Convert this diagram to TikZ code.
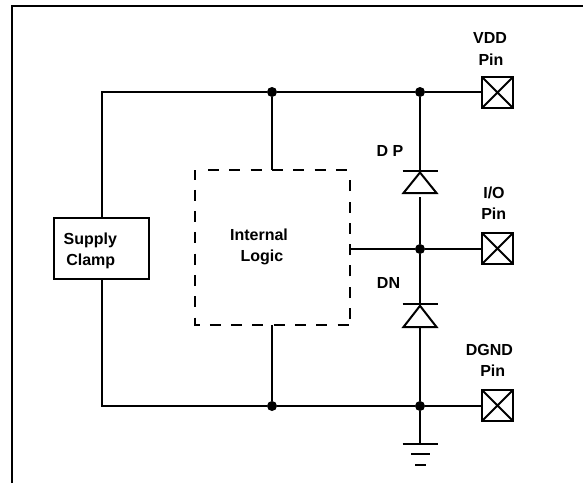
\documentclass[tikz,border=0pt]{standalone}
\usepackage{fontspec}
\setmainfont{Liberation Sans}
\tikzset{
  wire/.style={line width=2pt,line cap=butt},
  frameline/.style={line width=2.4pt,line join=miter},
  dot/.style={circle,fill=black,draw=none,inner sep=0pt,minimum size=10pt},
  lbl/.style={font=\fontsize{16pt}{18pt}\selectfont\bfseries,inner sep=0pt,anchor=center},
  pinbox/.style={rectangle,draw,line width=2pt,inner sep=0pt,minimum size=31pt,
    path picture={\draw[line width=2pt] (path picture bounding box.north west)--(path picture bounding box.south east)
      (path picture bounding box.north east)--(path picture bounding box.south west);}},
  clampbox/.style={rectangle,draw,line width=2pt,inner sep=0pt,minimum width=95pt,minimum height=61pt},
  logicedge/.style={line width=2pt,dash pattern=on 11pt off 10.3pt},
}
\begin{document}
\begin{tikzpicture}[x=1pt,y=-1pt]
\useasboundingbox (0,0) rectangle (583,483);
\draw[frameline] (12,483) -- (12,6) -- (583,6);

% junctions and pins
\node[dot] (jt) at (272,92) {};
\node[dot] (jv) at (420,92) {};
\node[dot] (ji) at (420,249) {};
\node[dot] (jb) at (272,406) {};
\node[dot] (jg) at (420,406) {};
\node[pinbox] (pv) at (497.5,92.5) {};
\node[pinbox] (pi) at (497.5,248.5) {};
\node[pinbox] (pg) at (497.5,405.5) {};
\node[clampbox] (clamp) at (101.5,248.5) {};
\coordinate (tl) at (102,92);
\coordinate (bl) at (102,406);

% internal logic box
\coordinate (lnw) at (195,170);
\coordinate (lne) at (350,170);
\coordinate (lse) at (350,325);
\coordinate (lsw) at (195,325);
\coordinate (lwt) at (350,249);
\draw[logicedge,dash phase=1.5pt] (lnw) -- (lsw);
\draw[logicedge,dash phase=5.5pt] (194,325) -- (lse);
\draw[logicedge,dash phase=15.3pt] (lse) -- (lne);
\draw[logicedge,dash phase=11pt] (197.7,170) -- (lne);

% bus wires
\draw[wire] (clamp.north -| tl) -- (tl) -- (jt) -- (jv) -- (pv.west |- jv);
\draw[wire] (clamp.south -| bl) -- (bl) -- (jb) -- (jg) -- (pg.west |- jg);
\draw[wire] (jt) -- (jt |- lnw);
\draw[wire] (jb) -- (jb |- lsw);
\draw[wire] (lwt) -- (ji) -- (pi.west |- ji);

% diodes
\coordinate (dpb) at (420,171);
\coordinate (dpa) at (420,193);
\coordinate (dnb) at (420,304);
\coordinate (dna) at (420,327);
\draw[wire] (jv) -- (dpb);
\draw[wire] (420,197) -- (ji) -- (dnb);
\draw[wire] (420,328) -- (jg);
\draw[wire] (402.7,171) -- (438,171);
\draw[wire] (402.7,304) -- (438,304);
\draw[wire,line join=miter] (420,172.5) -- (403.5,193) -- (436.5,193) -- cycle;
\draw[wire,line join=miter] (420,305.8) -- (403.5,327) -- (436.5,327) -- cycle;

% ground
\coordinate (g1) at (420,444);
\draw[wire] (jg) -- (g1);
\draw[wire] (402.7,444) -- (438,444);
\draw[wire] (411,454) -- (430,454);
\draw[wire] (415,465) -- (426,465);

% labels
\node[lbl] (t1) at (490,38) {VDD};
\node[lbl] (t2) at (491,60) {Pin};
\node[lbl] (t3) at (494,193) {I/O};
\node[lbl] (t4) at (493.7,213.5) {Pin};
\node[lbl] (t5) at (489.3,349.5) {DGND};
\node[lbl] (t6) at (492.7,370.5) {Pin};
\node[lbl] (t7) at (390,151) {D P};
\node[lbl] (t8) at (388.5,283) {DN};
\node[lbl] (t9) at (90.3,240) {Supply};
\node[lbl] (t10) at (90.7,261) {Clamp};
\node[lbl] (t11) at (259,235) {Internal};
\node[lbl] (t12) at (262,257) {Logic};
\end{tikzpicture}
\end{document}
